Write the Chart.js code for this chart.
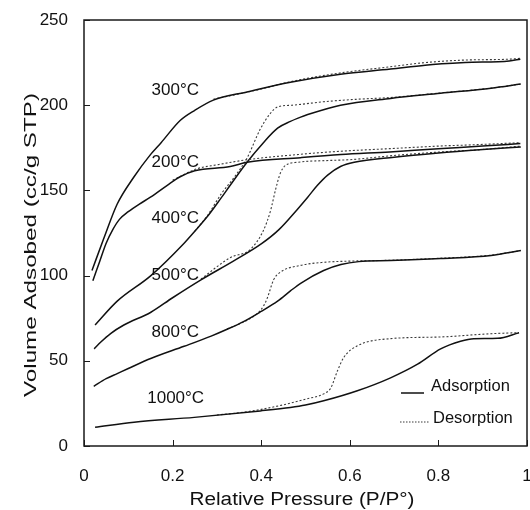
<!DOCTYPE html>
<html>
<head>
<meta charset="utf-8">
<title>Adsorption isotherms</title>
<script src="https://cdn.jsdelivr.net/npm/chart.js@4.4.0/dist/chart.umd.min.js"></script>
<style>
  body { margin: 0; background: #fff; }
</style>
</head>
<body>
<canvas id="iso" width="530" height="510"></canvas>
<script>
// relative pressure P/Po and volume adsorbed (cc/g STP)
var p300a = [0.018, 0.045, 0.075, 0.113, 0.15, 0.174, 0.217, 0.25, 0.292, 0.368, 0.466, 0.579, 0.692, 0.77, 0.86, 0.96, 0.985];
var v300a = [103, 122, 142, 158, 171, 178, 191, 197, 203, 207.8, 213.5, 218.2, 221.2, 223.5, 225, 226, 227];
var p300d = [0.292, 0.4, 0.47, 0.58, 0.69, 0.77, 0.86, 0.96, 0.985];
var v300d = [203.5, 209.5, 214, 219, 222.5, 225, 226.5, 227, 227.5];

var p200a = [0.02, 0.035, 0.05, 0.065, 0.08, 0.1, 0.125, 0.15, 0.188, 0.217, 0.25, 0.33, 0.368, 0.489, 0.58, 0.69, 0.8, 0.9, 0.985];
var v200a = [97, 108, 119, 127, 133, 137.5, 142, 146, 153, 158, 161.5, 164, 166.5, 169.2, 171, 172.6, 174.5, 176, 177.5];
var p200d = [0.2, 0.255, 0.3, 0.368, 0.489, 0.58, 0.69, 0.8, 0.9, 0.985];
var v200d = [156, 162.7, 165, 168, 171.2, 173, 174.5, 176, 177, 178];

var p400a = [0.025, 0.075, 0.151, 0.226, 0.25, 0.278, 0.308, 0.33, 0.368, 0.405, 0.437, 0.466, 0.489, 0.505, 0.579, 0.692, 0.805, 0.919, 0.986];
var v400a = [71, 85, 100, 119, 126, 134.5, 145, 153, 166.5, 178, 186.5, 190.5, 193, 194.5, 200, 204, 207, 210, 212.4];
var p400d = [0.25, 0.278, 0.31, 0.34, 0.368, 0.398, 0.42, 0.437, 0.47, 0.54, 0.617, 0.692, 0.805, 0.919, 0.986];
var v400d = [126, 135, 148, 158, 169, 186, 195, 199, 200, 202, 203.5, 204.5, 207.2, 210, 212.4];

var p500a = [0.023, 0.038, 0.06, 0.09, 0.151, 0.2, 0.264, 0.339, 0.4, 0.44, 0.482, 0.505, 0.527, 0.55, 0.579, 0.61, 0.7, 0.8, 0.9, 0.986];
var v500a = [57, 61, 66, 71, 78.5, 87, 97.5, 108.8, 118.6, 127, 139, 146, 153, 159, 164, 166.5, 169.5, 172, 174, 175.5];
var p500d = [0.264, 0.33, 0.376, 0.405, 0.421, 0.432, 0.443, 0.455, 0.482, 0.557, 0.6, 0.7, 0.8, 0.9, 0.986];
var v500d = [98, 110.5, 115.5, 126.5, 138, 150, 160, 164.7, 166.5, 167.6, 168, 170.5, 172.5, 174, 176];

var p800a = [0.022, 0.05, 0.075, 0.1, 0.152, 0.226, 0.287, 0.323, 0.36, 0.4, 0.437, 0.466, 0.489, 0.541, 0.58, 0.62, 0.692, 0.805, 0.919, 0.986];
var v800a = [35, 39.5, 42.5, 45.5, 51.5, 58.5, 64.5, 68.5, 73, 79, 85, 91, 95.5, 103, 106.5, 108.2, 108.8, 110, 111.8, 114.7];
var p800d = [0.323, 0.39, 0.405, 0.414, 0.428, 0.443, 0.489, 0.541, 0.6, 0.692, 0.805, 0.919, 0.986];
var v800d = [68.5, 77.5, 82, 87, 97.5, 102, 106, 107.8, 108.5, 109, 110.2, 112, 114.7];

var p1000a = [0.025, 0.113, 0.249, 0.398, 0.466, 0.5, 0.541, 0.617, 0.692, 0.753, 0.805, 0.85, 0.88, 0.934, 0.982];
var v1000a = [11, 14, 16.8, 20.6, 22.6, 24, 26.5, 32.4, 40, 48, 57, 61.5, 63, 63.2, 66.5];
var p1000d = [0.3, 0.35, 0.4, 0.459, 0.5, 0.541, 0.557, 0.572, 0.586, 0.617, 0.692, 0.805, 0.919, 0.982];
var v1000d = [18.2, 19.5, 21.5, 24.7, 27.5, 30.6, 34, 44, 51.8, 58.8, 63, 64, 65.9, 66.5];

var temps = ['300°C', '200°C', '400°C', '500°C', '800°C', '1000°C'];
var xTicks = [0, 0.2, 0.4, 0.6, 0.8, 1];
var yTicks = [0, 50, 100, 150, 200, 250];

// where each temperature label sits, in data units
var labelP = [0.206, 0.206, 0.206, 0.206, 0.206, 0.207];
var labelV = [208.8, 166.5, 133.5, 100, 67, 28.2];

var font = '"Liberation Sans", Arial, sans-serif';

function pts(xs, ys) {
  return xs.map(function(x, i) { return {x: x, y: ys[i]}; });
}

function curve(xs, ys, dotted) {
  return {
    data: pts(xs, ys),
    showLine: true,
    pointRadius: 0,
    borderColor: dotted ? '#3a3a3a' : '#111',
    borderWidth: dotted ? 1.1 : 1.5,
    borderDash: dotted ? [2, 2] : [],
    cubicInterpolationMode: 'monotone',
    fill: false
  };
}

var datasets = [
  curve(p300a, v300a), curve(p300d, v300d, true),
  curve(p200a, v200a), curve(p200d, v200d, true),
  curve(p400a, v400a), curve(p400d, v400d, true),
  curve(p500a, v500a), curve(p500d, v500d, true),
  curve(p800a, v800a), curve(p800d, v800d, true),
  curve(p1000a, v1000a), curve(p1000d, v1000d, true)
];

function stretchedText(ctx, text, cx, cy, size, target, angle) {
  ctx.save();
  ctx.translate(cx, cy);
  ctx.rotate(angle);
  ctx.font = size + 'px ' + font;
  var w = ctx.measureText(text).width;
  ctx.scale(target / w, 1);
  ctx.textAlign = 'center';
  ctx.textBaseline = 'middle';
  ctx.fillText(text, 0, 0);
  ctx.restore();
}

var decor = {
  id: 'decor',
  afterDraw: function(chart) {
    var ctx = chart.ctx, a = chart.chartArea;
    var xs = chart.scales.x, ys = chart.scales.y;
    ctx.save();
    ctx.strokeStyle = '#1a1a1a';
    ctx.lineWidth = 1.5;
    ctx.strokeRect(a.left, a.top, a.right - a.left, a.bottom - a.top);

    // inward ticks
    ctx.lineWidth = 1;
    xTicks.forEach(function(t) {
      var px = Math.round(xs.getPixelForValue(t)) + 0.5;
      ctx.beginPath(); ctx.moveTo(px, a.bottom); ctx.lineTo(px, a.bottom - 6); ctx.stroke();
    });
    yTicks.forEach(function(t) {
      var py = Math.round(ys.getPixelForValue(t)) + 0.5;
      ctx.beginPath(); ctx.moveTo(a.left, py); ctx.lineTo(a.left + 6, py); ctx.stroke();
    });

    // temperature labels
    ctx.fillStyle = '#111';
    ctx.font = '17px ' + font;
    ctx.textAlign = 'center';
    ctx.textBaseline = 'middle';
    temps.forEach(function(t, i) {
      ctx.fillText(t, xs.getPixelForValue(labelP[i]), ys.getPixelForValue(labelV[i]));
    });

    // legend
    ctx.font = '16.5px ' + font;
    ctx.textAlign = 'left';
    ctx.lineWidth = 1.5;
    ctx.strokeStyle = '#111';
    ctx.beginPath(); ctx.moveTo(401, 393); ctx.lineTo(424, 393); ctx.stroke();
    ctx.fillText('Adsorption', 431, 386);
    ctx.lineWidth = 1.1;
    ctx.strokeStyle = '#3a3a3a';
    ctx.setLineDash([1.5, 1.5]);
    ctx.beginPath(); ctx.moveTo(400, 422); ctx.lineTo(429, 422); ctx.stroke();
    ctx.setLineDash([]);
    ctx.fillText('Desorption', 433, 418);

    // axis titles
    stretchedText(ctx, 'Relative Pressure (P/P°)', 302, 500, 18, 225, 0);
    stretchedText(ctx, 'Volume Adsobed (cc/g STP)', 31, 245, 17, 304, -Math.PI / 2);
    ctx.restore();
  }
};

new Chart(document.getElementById('iso'), {
  type: 'scatter',
  data: { datasets: datasets },
  options: {
    responsive: false,
    animation: false,
    layout: { padding: { left: 0, right: 3, top: 20, bottom: 0 } },
    plugins: { legend: { display: false }, tooltip: { enabled: false } },
    scales: {
      x: {
        type: 'linear', min: 0, max: 1,
        grid: { display: false, drawTicks: false },
        border: { display: false },
        afterBuildTicks: function(s) { s.ticks = xTicks.map(function(v) { return {value: v}; }); },
        afterFit: function(s) { s.height = 64; s.paddingLeft = 0; s.paddingRight = 0; },
        ticks: {
          padding: 20, color: '#111', font: { family: font, size: 17 },
          callback: function(v) { return String(v); }
        }
      },
      y: {
        type: 'linear', min: 0, max: 250,
        grid: { display: false, drawTicks: false },
        border: { display: false },
        afterBuildTicks: function(s) { s.ticks = yTicks.map(function(v) { return {value: v}; }); },
        afterFit: function(s) { s.width = 84; s.paddingTop = 0; s.paddingBottom = 0; },
        ticks: {
          padding: 16, color: '#111', font: { family: font, size: 17 },
          callback: function(v) { return String(v); }
        }
      }
    }
  },
  plugins: [decor]
});
</script>
</body>
</html>
